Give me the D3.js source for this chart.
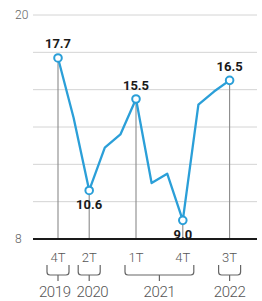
<!DOCTYPE html>
<html><head><meta charset="utf-8">
<script src="https://cdn.jsdelivr.net/npm/d3@7"></script>
<style>html,body{margin:0;padding:0;background:#fff;}svg{display:block;}</style>
</head><body>
<script>
const quarters = ["4T","1T","2T","3T","4T","1T","2T","3T","4T","1T","2T","3T"];
const years = ["2019","2020","2020","2020","2020","2021","2021","2021","2021","2022","2022","2022"];
const values = [17.7,14.5,10.6,12.9,13.6,15.5,11.0,11.5,9.0,15.2,15.9,16.5];
const highlighted = [0,2,5,8,11];
const labelBelow = [false,true,false,true,false];
const yTicks = [8,10,12,14,16,18,20];
const yLabels = [8,20];

const W=262,H=301;
const svg=d3.select("body").append("svg").attr("width",W).attr("height",H);
const x=d3.scaleLinear().domain([0,quarters.length-1]).range([58,229.6]);
const y=d3.scaleLinear().domain([8,20]).range([239,15]);
const blue="#2b9fd8";

// gridlines
svg.append("g").selectAll("line").data(yTicks.filter(d=>d!==8)).join("line")
  .attr("x1",33).attr("x2",257).attr("y1",d=>y(d)).attr("y2",d=>y(d))
  .attr("stroke","#d4d4d4").attr("stroke-width",1);
// y labels
svg.append("g").selectAll("text").data(yLabels).join("text")
  .attr("x",15).attr("y",d=>y(d)+4.3).text(d=>d)
  .attr("font-family","Roboto").attr("font-weight",300).attr("font-size",12).attr("fill","#666");
// vertical lines
svg.append("g").selectAll("line").data(highlighted).join("line")
  .attr("x1",i=>x(i)).attr("x2",i=>x(i)).attr("y1",i=>y(values[i])).attr("y2",y(8))
  .attr("stroke","#8a8a8a").attr("stroke-width",1.1);
// baseline
svg.append("line").attr("x1",33).attr("x2",257).attr("y1",y(8)).attr("y2",y(8))
  .attr("stroke","#1a1a1a").attr("stroke-width",2);
// line
svg.append("path").datum(values)
  .attr("d",d3.line().x((d,i)=>x(i)).y(d=>y(d)))
  .attr("fill","none").attr("stroke",blue).attr("stroke-width",2.3).attr("stroke-linejoin","round");
// markers
svg.append("g").selectAll("circle").data(highlighted).join("circle")
  .attr("cx",i=>x(i)).attr("cy",i=>y(values[i])).attr("r",3.8)
  .attr("fill","#fff").attr("stroke",blue).attr("stroke-width",2);
// value labels
svg.append("g").selectAll("text").data(highlighted).join("text")
  .attr("x",i=>x(i)).attr("y",(i,k)=>labelBelow[k]? y(values[i])+19 : y(values[i])-9.5)
  .attr("text-anchor","middle").text(i=>values[i].toFixed(1))
  .attr("font-family","Roboto").attr("font-weight",700).attr("font-size",13).attr("fill","#1a1a1a");
// quarter tick labels
svg.append("g").selectAll("text").data(highlighted).join("text")
  .attr("x",i=>x(i)).attr("y",262).attr("text-anchor","middle").text(i=>quarters[i])
  .attr("font-family","Roboto").attr("font-weight",300).attr("font-size",13).attr("fill","#555");
// year brackets
const groups=d3.groups(highlighted,i=>years[i]).map(([yr,idx])=>({yr,x0:x(idx[0])-11,x1:x(idx[idx.length-1])+11}));
groups.forEach(g=>g.cx=(g.x0+g.x1)/2);
const br=3, bTop=265, hy=275;
svg.append("g").selectAll("path").data(groups).join("path")
  .attr("d",g=>`M${g.x0},${bTop}V${hy-br}Q${g.x0},${hy} ${g.x0+br},${hy}H${g.x1-br}Q${g.x1},${hy} ${g.x1},${hy-br}V${bTop}M${g.cx},${hy}V${hy+6}`)
  .attr("fill","none").attr("stroke","#666").attr("stroke-width",1.2);
// year labels with simple overlap avoidance
const ylab=svg.append("g").selectAll("text").data(groups).join("text")
  .attr("y",297).attr("text-anchor","middle").text(g=>g.yr)
  .attr("font-family","Roboto").attr("font-weight",300).attr("font-size",15).attr("letter-spacing","-0.4px").attr("fill","#555");
const pos=groups.map(g=>g.cx);
const widths=[];ylab.each(function(){widths.push(this.getComputedTextLength());});
for(let k=1;k<pos.length;k++){
  const need=(widths[k-1]+widths[k])/2+6;
  const gap=pos[k]-pos[k-1];
  if(gap<need){const s=(need-gap)/2;pos[k-1]-=s;pos[k]+=s;}
}
ylab.attr("x",(g,k)=>pos[k]);
</script>
</body></html>
